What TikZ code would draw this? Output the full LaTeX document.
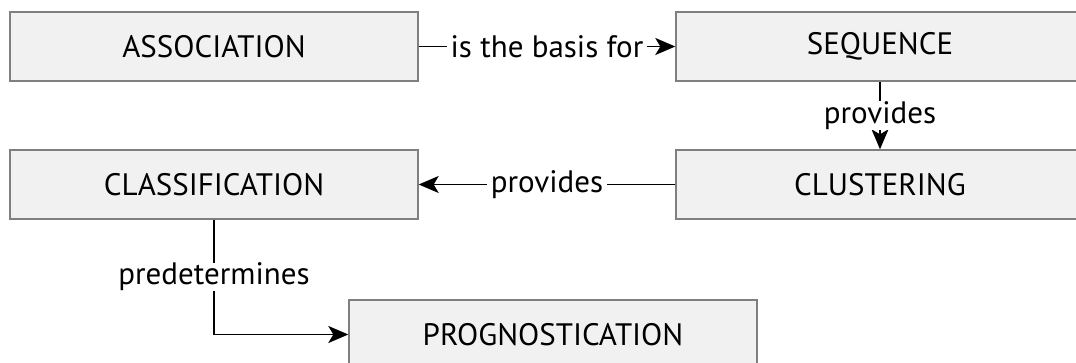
\documentclass[tikz,border=0pt]{standalone}
\usepackage{fontspec}
\setmainfont{PT Sans}
\usetikzlibrary{arrows.meta,positioning}
\definecolor{boxfill}{HTML}{F1F1F1}
\definecolor{boxline}{HTML}{7F7F7F}
\begin{document}
\begin{tikzpicture}[x=1pt,y=-1pt,
  conbox/.style={draw=boxline, line width=1.4pt, fill=boxfill, minimum width=408pt, minimum height=69pt, inner sep=0pt, font=\fontsize{31}{36}\selectfont},
  conn/.style={line width=1.6pt, -{Stealth[length=20pt,width=17pt,inset=5pt]}},
  lbl/.style={fill=white, inner xsep=4pt, inner ysep=0pt, font=\fontsize{31}{36}\selectfont}]
\useasboundingbox (0,0) rectangle (1076,363);
\node[conbox] (assoc) at (214,46.5) {ASSOCIATION};
\node[conbox] (seq) at (880,46.5) {SEQUENCE};
\node[conbox] (clas) at (214,184.5) {CLASSIFICATION};
\node[conbox] (clus) at (880,184.5) {CLUSTERING};
\node[conbox] (prog) at (553,334.5) {PROGNOSTICATION};
\draw[conn] (assoc) -- node[lbl] {is the basis for} (seq);
\draw[conn] (seq) -- node[lbl, inner xsep=2pt] {provides} (clus);
\draw[conn] (clus) -- node[lbl] {provides} (clas);
\draw[conn] (clas.south) |- node[lbl, pos=0.25, inner xsep=2pt] {predetermines} (prog.west);
\end{tikzpicture}
\end{document}
